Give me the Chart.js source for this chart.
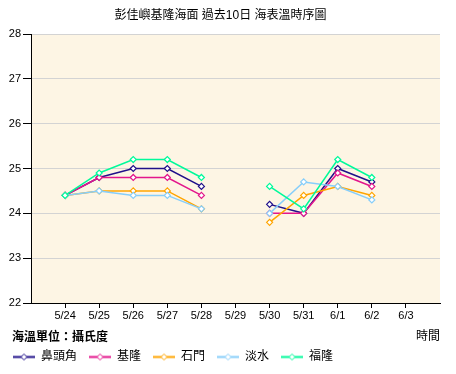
<!DOCTYPE html>
<html>
<head>
<meta charset="utf-8">
<script src="https://cdn.jsdelivr.net/npm/chart.js@4/dist/chart.umd.min.js"></script>
<style>
  html, body { margin: 0; padding: 0; background: #fff; }
</style>
</head>
<body>
<canvas id="sstChart" width="456" height="374"></canvas>
<script>
// ===========================
// Data
// ===========================
const dates = ['5/24', '5/25', '5/26', '5/27', '5/28', '5/29', '5/30', '5/31', '6/1', '6/2', '6/3'];
const stations = ['鼻頭角', '基隆', '石門', '淡水', '福隆'];
const bitoujiao = [24.4, 24.8, 25.0, 25.0, 24.6, null, 24.2, 24.0, 25.0, 24.7, null];
const keelung   = [24.4, 24.8, 24.8, 24.8, 24.4, null, 24.0, 24.0, 24.9, 24.6, null];
const shimen    = [24.4, 24.5, 24.5, 24.5, 24.1, null, 23.8, 24.4, 24.6, 24.4, null];
const tamsui    = [24.4, 24.5, 24.4, 24.4, 24.1, null, 24.0, 24.7, 24.6, 24.3, null];
const fulong    = [24.4, 24.9, 25.2, 25.2, 24.8, null, 24.6, 24.1, 25.2, 24.8, null];
const yTicks = [22, 23, 24, 25, 26, 27, 28];

const titleText = '彭佳嶼基隆海面 過去10日 海表溫時序圖';
const unitText = '海溫單位：攝氏度';
const xAxisText = '時間';
const colors = ['#20108a', '#e3168c', '#ffa500', '#87cefa', '#00fa9a'];

// blank slot on each side of the date axis
const labels = [''].concat(dates, ['']);
const pad = arr => [null].concat(arr, [null]);
const seriesValues = [bitoujiao, keelung, shimen, tamsui, fulong];

// ===========================
// Helpers
// ===========================
function legendMarker(color) {
    const c = document.createElement('canvas');
    c.width = 22; c.height = 9;
    const g = c.getContext('2d');
    g.strokeStyle = color; g.lineWidth = 2;
    g.beginPath(); g.moveTo(0, 4.5); g.lineTo(22, 4.5); g.stroke();
    g.fillStyle = '#fff'; g.lineWidth = 1;
    g.beginPath();
    g.moveTo(11, 1.5); g.lineTo(14, 4.5); g.lineTo(11, 7.5); g.lineTo(8, 4.5); g.closePath();
    g.fill(); g.stroke();
    return c;
}

const plotBackground = {
    id: 'plotBackground',
    beforeDraw(chart) {
        const {ctx, chartArea: a} = chart;
        ctx.save();
        ctx.fillStyle = '#fdf5e4';
        ctx.fillRect(a.left, a.top, a.right - a.left, a.bottom - a.top);
        ctx.restore();
    }
};

// unit note sits on the same row as the x axis title
const unitNote = {
    id: 'unitNote',
    afterDraw(chart) {
        const ctx = chart.ctx;
        ctx.save();
        ctx.font = 'bold 12px "Liberation Sans", "Noto Sans CJK TC", sans-serif';
        ctx.fillStyle = '#000';
        ctx.textBaseline = 'middle';
        ctx.textAlign = 'left';
        ctx.fillText(unitText, 12, 338);
        ctx.restore();
    }
};

// ===========================
// Chart
// ===========================
Chart.defaults.font.family = '"Liberation Sans", "Noto Sans CJK TC", sans-serif';
Chart.defaults.color = '#000';

const datasets = stations.map((name, i) => ({
    label: name,
    data: pad(seriesValues[i]),
    borderColor: colors[i],
    backgroundColor: '#fff',
    borderWidth: 1.5,
    pointStyle: 'rectRot',
    pointRadius: 3,
    pointBorderWidth: 1.2,
    pointBackgroundColor: '#fff',
    pointBorderColor: colors[i],
    order: stations.length - i,
    tension: 0
}));

new Chart(document.getElementById('sstChart').getContext('2d'), {
    type: 'line',
    data: { labels: labels, datasets: datasets },
    plugins: [plotBackground, unitNote],
    options: {
        responsive: false,
        animation: false,
        layout: { padding: { left: 1, right: 16, top: 0, bottom: 1 } },
        plugins: {
            title: {
                display: true,
                text: titleText,
                font: { size: 12, weight: 'normal' },
                padding: { top: 8, bottom: 11.6 }
            },
            legend: {
                position: 'bottom',
                align: 'start',
                labels: {
                    usePointStyle: true,
                    pointStyleWidth: 22,
                    padding: 12,
                    font: { size: 12 },
                    generateLabels: chart => chart.data.datasets.map((ds, i) => ({
                        text: ds.label,
                        pointStyle: legendMarker(colors[i]),
                        fillStyle: colors[i],
                        strokeStyle: colors[i],
                        lineWidth: 0,
                        hidden: !chart.isDatasetVisible(i),
                        datasetIndex: i
                    }))
                }
            },
            tooltip: { enabled: false }
        },
        scales: {
            x: {
                type: 'category',
                offset: false,
                grid: {
                    drawOnChartArea: false,
                    drawTicks: true,
                    tickLength: 5,
                    tickColor: ctx => (ctx.tick && ctx.tick.label === '') ? 'rgba(0,0,0,0)' : '#000',
                    offset: false
                },
                border: { color: '#000', width: 1 },
                ticks: { autoSkip: false, maxRotation: 0, padding: 1, font: { size: 11 } },
                title: {
                    display: true,
                    text: xAxisText,
                    align: 'end',
                    font: { size: 12 },
                    padding: { top: 6.6, bottom: -5.2 }
                }
            },
            y: {
                min: 22,
                max: 28,
                afterFit: scale => { scale.width = 30; },
                afterBuildTicks: scale => { scale.ticks = yTicks.map(v => ({ value: v })); },
                grid: { color: '#d3d3d3', tickColor: '#000', tickLength: 8 },
                border: { color: '#000', width: 1 },
                ticks: { padding: 2, font: { size: 11 } }
            }
        }
    }
});
</script>
</body>
</html>
